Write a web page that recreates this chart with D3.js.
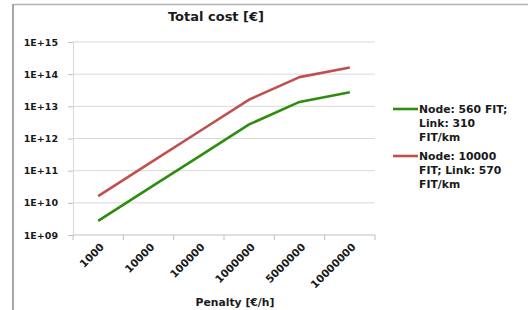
<!DOCTYPE html>
<html>
<head>
<meta charset="utf-8">
<script src="https://d3js.org/d3.v7.min.js"></script>
<style>
  body { margin: 0; background: #fff; }
  text { font-family: "DejaVu Sans", Verdana, sans-serif; font-weight: bold; fill: #1a1a1a; }
</style>
</head>
<body>
<svg width="528" height="310"></svg>
<script>
// categories and values
const penalties = ["1000", "10000", "100000", "1000000", "5000000", "10000000"];
const lowFit = [2.75e9, 2.75e10, 2.75e11, 2.75e12, 1.37e13, 2.75e13];
const highFit = [1.62e10, 1.62e11, 1.62e12, 1.62e13, 8.1e13, 1.62e14];
const yTicks = [1e9, 1e10, 1e11, 1e12, 1e13, 1e14, 1e15];

const series = [
    { name: ["Node: 560 FIT;", "Link: 310", "FIT/km"], values: lowFit, color: "#2e8c0e" },
    { name: ["Node: 10000", "FIT; Link: 570", "FIT/km"], values: highFit, color: "#c0504d" }
];

const svg = d3.select("svg");

// outer frame (only top and left edges show)
svg.append("line").attr("x1", 13).attr("x2", 528).attr("y1", 4.5).attr("y2", 4.5)
    .attr("stroke", "#b4b4b4").attr("stroke-width", 1.5);
svg.append("line").attr("x1", 13).attr("x2", 13).attr("y1", 4).attr("y2", 310)
    .attr("stroke", "#a6a6a6").attr("stroke-width", 2);

const plotLeft = 73, plotRight = 375, plotTop = 42, plotBottom = 235;

const x = d3.scaleBand().domain(penalties).range([plotLeft, plotRight]);
const y = d3.scaleLog().domain([1e9, 1e15]).range([plotBottom, plotTop]);

// gridlines
svg.append("g").selectAll("line").data(yTicks.slice(1)).join("line")
    .attr("x1", plotLeft).attr("x2", plotRight)
    .attr("y1", d => y(d)).attr("y2", d => y(d))
    .attr("stroke", "#d9d9d9").attr("stroke-width", 1);

// y axis
const yAxis = svg.append("g").attr("transform", `translate(${plotLeft},0)`)
    .call(d3.axisLeft(y).tickValues(yTicks).tickSize(5).tickPadding(10)
        .tickFormat(d => "1E+" + String(Math.round(Math.log10(d))).padStart(2, "0")));
yAxis.select(".domain").attr("stroke", "#d9d9d9");
yAxis.selectAll(".tick line").attr("stroke", "#bfbfbf");
yAxis.selectAll("text").attr("font-size", 9.5).attr("fill", "#1a1a1a");

// x axis with boundary ticks
const xAxis = svg.append("g").attr("transform", `translate(0,${plotBottom})`);
xAxis.append("line").attr("x1", plotLeft).attr("x2", plotRight)
    .attr("stroke", "#bfbfbf");
const bounds = penalties.map(p => x(p)).concat([plotRight]);
xAxis.selectAll(".tk").data(bounds).join("line")
    .attr("x1", d => d).attr("x2", d => d).attr("y1", 0).attr("y2", 5)
    .attr("stroke", "#bfbfbf");
xAxis.selectAll(".lbl").data(penalties).join("text")
    .attr("transform", d => `translate(${x(d) + x.bandwidth() / 2 + 4},${10}) rotate(-45)`)
    .attr("text-anchor", "end")
    .attr("dy", "0.35em")
    .attr("font-size", 10.5)
    .text(d => d);

// lines
const line = d3.line()
    .x((d, i) => x(penalties[i]) + x.bandwidth() / 2)
    .y(d => y(d));

svg.append("g").selectAll("path").data(series).join("path")
    .attr("d", d => line(d.values))
    .attr("fill", "none")
    .attr("stroke", d => d.color)
    .attr("stroke-width", 2.6)
    .attr("stroke-linejoin", "round");

// titles
svg.append("text").attr("x", 216).attr("y", 21).attr("text-anchor", "middle")
    .attr("font-size", 13).text("Total cost [€]");
svg.append("text").attr("x", 235).attr("y", 306).attr("text-anchor", "middle")
    .attr("font-size", 10.8).text("Penalty [€/h]");

// legend
const legend = svg.append("g").selectAll("g").data(series).join("g")
    .attr("transform", (d, i) => `translate(393,${109 + i * 47})`);
legend.append("line").attr("x1", 0).attr("x2", 25).attr("y1", 0).attr("y2", 0)
    .attr("stroke", d => d.color).attr("stroke-width", 2.6);
legend.each(function (d) {
    d3.select(this).selectAll("text").data(d.name).join("text")
        .attr("x", 26).attr("y", (t, j) => j * 14)
        .attr("dy", "0.35em")
        .attr("font-size", 10.8)
        .text(t => t);
});
</script>
</body>
</html>
